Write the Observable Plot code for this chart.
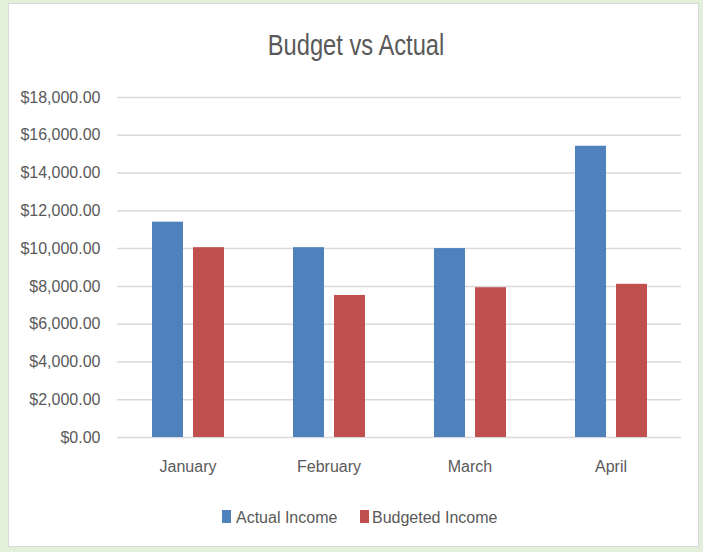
<!DOCTYPE html>
<html>
<head>
<meta charset="utf-8">
<script src="https://cdn.jsdelivr.net/npm/d3@7"></script>
<script src="https://cdn.jsdelivr.net/npm/@observablehq/plot@0.6"></script>
<style>
  html, body { margin: 0; padding: 0; }
  body { width: 703px; height: 552px; background: #e2efda; position: relative; overflow: hidden;
         font-family: "Liberation Sans", Arial, sans-serif; color: #595959; }
  #panel { position: absolute; left: 8px; top: 3px; width: 691px; height: 544px; background: #fff;
           border: 1px solid #d9d9d9; box-sizing: border-box; }
  #title { position: absolute; left: 356px; top: 29.5px; font-size: 30px; line-height: 30px; white-space: nowrap;
           transform: translateX(-50%) scaleX(0.79); transform-origin: 50% 50%; color: #595959; }
  #chart { position: absolute; left: 0; top: 70px; }
  .sw { position: absolute; top: 510px; width: 9px; height: 13px; }
  .lt { position: absolute; top: 509.5px; font-size: 16px; line-height: 16px; white-space: nowrap; color: #595959; }
</style>
</head>
<body>
<div id="panel"></div>
<div id="title">Budget vs Actual</div>
<div id="chart"></div>
<div id="legend"></div>
<script>
const months = ["January", "February", "March", "April"];
const series = ["Actual Income", "Budgeted Income"];
const actualIncome = [11400, 10050, 10000, 15420];
const budgetedIncome = [10050, 7520, 7930, 8110];
const colors = ["#4f81bd", "#c0504d"];
const yTicks = [0, 2000, 4000, 6000, 8000, 10000, 12000, 14000, 16000, 18000];

const data = [];
months.forEach((m, i) => {
  data.push({month: m, series: series[0], value: actualIncome[i]});
  data.push({month: m, series: series[1], value: budgetedIncome[i]});
});

const chart = Plot.plot({
  width: 703,
  height: 420,
  marginTop: 27,
  marginBottom: 53,
  marginLeft: 117,
  marginRight: 22,
  style: {fontFamily: "'Liberation Sans', Arial, sans-serif", fontSize: "16px", color: "#595959", background: "transparent", overflow: "visible"},
  fx: {domain: months, padding: 0, label: null, axis: "bottom", tickSize: 0, tickPadding: 23},
  x: {domain: series, paddingInner: 0.244, paddingOuter: 0.83, axis: null},
  y: {domain: [0, 18000], ticks: yTicks, tickFormat: d3.format("$,.2f"), tickSize: 0, tickPadding: 17, label: null},
  color: {domain: series, range: colors},
  marks: [
    Plot.ruleY(yTicks, {stroke: "#d9d9d9", strokeWidth: 1.5}),
    Plot.barY(data, {fx: "month", x: "series", y: "value", fill: "series"})
  ]
});
document.getElementById("chart").appendChild(chart);

// Legend
const legend = document.getElementById("legend");
const legendX = [[222, 236], [359.5, 372]];
series.forEach((s, i) => {
  const sw = document.createElement("div");
  sw.className = "sw";
  sw.style.left = legendX[i][0] + "px";
  sw.style.background = colors[i];
  legend.appendChild(sw);
  const t = document.createElement("div");
  t.className = "lt";
  t.style.left = legendX[i][1] + "px";
  t.textContent = s;
  legend.appendChild(t);
});
</script>
</body>
</html>
